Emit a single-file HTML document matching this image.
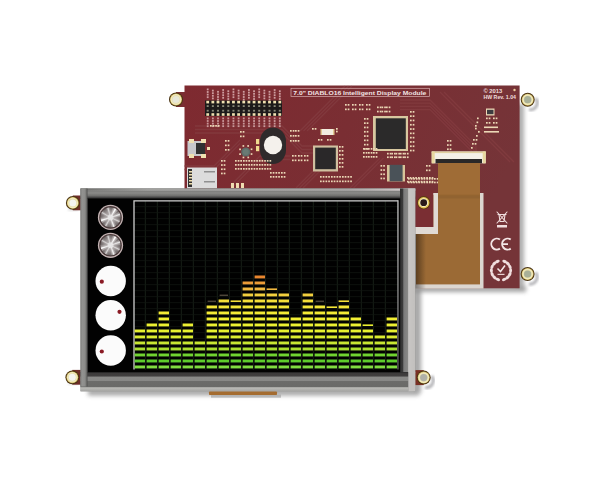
<!DOCTYPE html>
<html><head><meta charset="utf-8"><style>
html,body{margin:0;padding:0;background:#fff;width:600px;height:480px;overflow:hidden}
svg{display:block}
</style></head><body>
<svg width="600" height="480" viewBox="0 0 600 480">
<defs>
<filter id="blur2" x="-20%" y="-20%" width="140%" height="140%"><feGaussianBlur stdDeviation="2"/></filter>
<filter id="blur1" x="-20%" y="-20%" width="140%" height="140%"><feGaussianBlur stdDeviation="1"/></filter>
<filter id="blur05"><feGaussianBlur stdDeviation="0.5"/></filter>
<radialGradient id="gold" cx="50%" cy="50%" r="50%">
<stop offset="0.55" stop-color="#f2e8b0"/><stop offset="0.75" stop-color="#e8c860"/><stop offset="1" stop-color="#7a5a20"/>
</radialGradient>
<linearGradient id="pcbg" x1="0" y1="0" x2="1" y2="0.3">
<stop offset="0" stop-color="#7e2a30"/><stop offset="0.5" stop-color="#7a2e33"/><stop offset="1" stop-color="#753438"/>
</linearGradient>
</defs>
<rect width="600" height="480" fill="#fff"/>

<g filter="url(#blur2)" opacity="0.6"><rect x="516" y="104" width="8" height="188" fill="#777"/><rect x="410" y="286" width="116" height="6" fill="#666"/></g>
<rect x="176" y="92.0" width="16.0" height="15.0" fill="#7a2e33"/><circle cx="176" cy="99.5" r="7.0" fill="#4a3414"/><circle cx="176" cy="99.5" r="6.0" fill="#d0b860"/><circle cx="176" cy="99.5" r="5.4" fill="#f2ecc0"/><circle cx="176" cy="99.5" r="4.2" fill="#e6dca8"/><circle cx="176" cy="99.5" r="3.6" fill="#e8e8d8"/>
<path d="M528.98 109.59 A7.0 7.0 0 0 0 535.56 98.20" fill="none" stroke="#8a8a90" stroke-width="3.2" opacity="0.6" filter="url(#blur1)"/><circle cx="527.7" cy="99.7" r="7.0" fill="#4a3414"/><circle cx="527.7" cy="99.7" r="6.0" fill="#d0b860"/><circle cx="527.7" cy="99.7" r="5.4" fill="#f2ecc0"/><circle cx="527.7" cy="99.7" r="4.2" fill="#e6dca8"/><circle cx="527.7" cy="99.7" r="3.6" fill="#a8b098"/>
<path d="M528.88 283.89 A7.0 7.0 0 0 0 535.46 272.50" fill="none" stroke="#8a8a90" stroke-width="3.2" opacity="0.6" filter="url(#blur1)"/><circle cx="527.6" cy="274" r="7.0" fill="#4a3414"/><circle cx="527.6" cy="274" r="6.0" fill="#d0b860"/><circle cx="527.6" cy="274" r="5.4" fill="#f2ecc0"/><circle cx="527.6" cy="274" r="4.2" fill="#e6dca8"/><circle cx="527.6" cy="274" r="3.6" fill="#a8b098"/>
<rect x="184.5" y="85.5" width="335.1" height="202.8" fill="url(#pcbg)"/>
<clipPath id="pcbclip"><rect x="184.5" y="85.5" width="335.1" height="202.8"/></clipPath>
<g clip-path="url(#pcbclip)" stroke="#843c40" stroke-width="1.3" fill="none" opacity="0.8"><path d="M195.0 126.0 L282.0 126.0 L302.0 146.0 L332.0 146.0"/><path d="M195.0 129.5 L282.0 129.5 L302.0 149.5 L332.0 149.5"/><path d="M195.0 133.0 L282.0 133.0 L302.0 153.0 L332.0 153.0"/><path d="M345.0 86.0 L300.0 131.0"/><path d="M348.5 86.0 L303.5 131.0"/><path d="M352.0 86.0 L307.0 131.0"/><path d="M400.0 100.0 L430.0 100.0 L476.0 146.0 L476.0 190.0"/><path d="M400.0 103.2 L430.0 103.2 L476.0 149.2 L476.0 193.2"/><path d="M400.0 106.4 L430.0 106.4 L476.0 152.4 L476.0 196.4"/><path d="M400.0 109.6 L430.0 109.6 L476.0 155.6 L476.0 199.6"/><path d="M184.0 166.0 L214.0 166.0 L240.0 140.0"/><path d="M184.0 169.5 L214.0 169.5 L240.0 143.5"/><path d="M296.0 188.0 L336.0 148.0"/><path d="M299.5 188.0 L339.5 148.0"/><path d="M303.0 188.0 L343.0 148.0"/><path d="M440.0 92.0 L510.0 162.0"/><path d="M444.0 92.0 L514.0 162.0"/><path d="M230.0 186.0 L260.0 156.0 L290.0 156.0"/><path d="M230.0 189.5 L260.0 159.5 L290.0 159.5"/><path d="M350.0 188.0 L380.0 158.0"/><path d="M353.5 188.0 L383.5 158.0"/></g>
<rect x="205" y="100.5" width="77" height="15.5" fill="#1d1a1a"/>
<rect x="206.30" y="100.8" width="2.8" height="2.6" fill="#f0e0b0"/><rect x="206.30" y="113.2" width="2.8" height="2.6" fill="#f0e0b0"/><rect x="206.70" y="105.2" width="2" height="1.8" fill="#8a8a78"/><rect x="206.70" y="109.8" width="2" height="1.8" fill="#8a8a78"/><rect x="206.80" y="88.5" width="1.8" height="1.8" fill="#e8c4c4" opacity="0.75"/><rect x="206.80" y="91.1" width="1.8" height="1.8" fill="#e8c4c4" opacity="0.75"/><rect x="206.80" y="93.7" width="1.8" height="1.8" fill="#e8c4c4" opacity="0.75"/><rect x="206.80" y="96.3" width="1.8" height="1.8" fill="#e8c4c4" opacity="0.75"/><rect x="206.80" y="117.5" width="1.8" height="1.8" fill="#e8c4c4" opacity="0.7"/><rect x="206.80" y="120.1" width="1.8" height="1.8" fill="#e8c4c4" opacity="0.7"/><rect x="206.80" y="122.7" width="1.8" height="1.8" fill="#e8c4c4" opacity="0.7"/><rect x="206.80" y="125.3" width="1.8" height="1.8" fill="#e8c4c4" opacity="0.7"/><rect x="211.45" y="100.8" width="2.8" height="2.6" fill="#f0e0b0"/><rect x="211.45" y="113.2" width="2.8" height="2.6" fill="#f0e0b0"/><rect x="211.85" y="105.2" width="2" height="1.8" fill="#8a8a78"/><rect x="211.85" y="109.8" width="2" height="1.8" fill="#8a8a78"/><rect x="211.95" y="89.7" width="1.8" height="1.8" fill="#e8c4c4" opacity="0.75"/><rect x="211.95" y="92.3" width="1.8" height="1.8" fill="#e8c4c4" opacity="0.75"/><rect x="211.95" y="94.9" width="1.8" height="1.8" fill="#e8c4c4" opacity="0.75"/><rect x="211.95" y="97.5" width="1.8" height="1.8" fill="#e8c4c4" opacity="0.75"/><rect x="211.95" y="117.5" width="1.8" height="1.8" fill="#e8c4c4" opacity="0.7"/><rect x="211.95" y="120.1" width="1.8" height="1.8" fill="#e8c4c4" opacity="0.7"/><rect x="211.95" y="122.7" width="1.8" height="1.8" fill="#e8c4c4" opacity="0.7"/><rect x="211.95" y="125.3" width="1.8" height="1.8" fill="#e8c4c4" opacity="0.7"/><rect x="216.60" y="100.8" width="2.8" height="2.6" fill="#f0e0b0"/><rect x="216.60" y="113.2" width="2.8" height="2.6" fill="#f0e0b0"/><rect x="217.00" y="105.2" width="2" height="1.8" fill="#8a8a78"/><rect x="217.00" y="109.8" width="2" height="1.8" fill="#8a8a78"/><rect x="217.10" y="90.9" width="1.8" height="1.8" fill="#e8c4c4" opacity="0.75"/><rect x="217.10" y="93.5" width="1.8" height="1.8" fill="#e8c4c4" opacity="0.75"/><rect x="217.10" y="96.1" width="1.8" height="1.8" fill="#e8c4c4" opacity="0.75"/><rect x="217.10" y="98.7" width="1.8" height="1.8" fill="#e8c4c4" opacity="0.75"/><rect x="217.10" y="117.5" width="1.8" height="1.8" fill="#e8c4c4" opacity="0.7"/><rect x="217.10" y="120.1" width="1.8" height="1.8" fill="#e8c4c4" opacity="0.7"/><rect x="217.10" y="122.7" width="1.8" height="1.8" fill="#e8c4c4" opacity="0.7"/><rect x="217.10" y="125.3" width="1.8" height="1.8" fill="#e8c4c4" opacity="0.7"/><rect x="221.75" y="100.8" width="2.8" height="2.6" fill="#f0e0b0"/><rect x="221.75" y="113.2" width="2.8" height="2.6" fill="#f0e0b0"/><rect x="222.15" y="105.2" width="2" height="1.8" fill="#8a8a78"/><rect x="222.15" y="109.8" width="2" height="1.8" fill="#8a8a78"/><rect x="222.25" y="89.1" width="1.8" height="1.8" fill="#e8c4c4" opacity="0.75"/><rect x="222.25" y="91.7" width="1.8" height="1.8" fill="#e8c4c4" opacity="0.75"/><rect x="222.25" y="94.3" width="1.8" height="1.8" fill="#e8c4c4" opacity="0.75"/><rect x="222.25" y="96.9" width="1.8" height="1.8" fill="#e8c4c4" opacity="0.75"/><rect x="222.25" y="117.5" width="1.8" height="1.8" fill="#e8c4c4" opacity="0.7"/><rect x="222.25" y="120.1" width="1.8" height="1.8" fill="#e8c4c4" opacity="0.7"/><rect x="222.25" y="122.7" width="1.8" height="1.8" fill="#e8c4c4" opacity="0.7"/><rect x="222.25" y="125.3" width="1.8" height="1.8" fill="#e8c4c4" opacity="0.7"/><rect x="226.90" y="100.8" width="2.8" height="2.6" fill="#f0e0b0"/><rect x="226.90" y="113.2" width="2.8" height="2.6" fill="#f0e0b0"/><rect x="227.30" y="105.2" width="2" height="1.8" fill="#8a8a78"/><rect x="227.30" y="109.8" width="2" height="1.8" fill="#8a8a78"/><rect x="227.40" y="90.3" width="1.8" height="1.8" fill="#e8c4c4" opacity="0.75"/><rect x="227.40" y="92.9" width="1.8" height="1.8" fill="#e8c4c4" opacity="0.75"/><rect x="227.40" y="95.5" width="1.8" height="1.8" fill="#e8c4c4" opacity="0.75"/><rect x="227.40" y="98.1" width="1.8" height="1.8" fill="#e8c4c4" opacity="0.75"/><rect x="227.40" y="117.5" width="1.8" height="1.8" fill="#e8c4c4" opacity="0.7"/><rect x="227.40" y="120.1" width="1.8" height="1.8" fill="#e8c4c4" opacity="0.7"/><rect x="227.40" y="122.7" width="1.8" height="1.8" fill="#e8c4c4" opacity="0.7"/><rect x="227.40" y="125.3" width="1.8" height="1.8" fill="#e8c4c4" opacity="0.7"/><rect x="232.05" y="100.8" width="2.8" height="2.6" fill="#f0e0b0"/><rect x="232.05" y="113.2" width="2.8" height="2.6" fill="#f0e0b0"/><rect x="232.45" y="105.2" width="2" height="1.8" fill="#8a8a78"/><rect x="232.45" y="109.8" width="2" height="1.8" fill="#8a8a78"/><rect x="232.55" y="88.5" width="1.8" height="1.8" fill="#e8c4c4" opacity="0.75"/><rect x="232.55" y="91.1" width="1.8" height="1.8" fill="#e8c4c4" opacity="0.75"/><rect x="232.55" y="93.7" width="1.8" height="1.8" fill="#e8c4c4" opacity="0.75"/><rect x="232.55" y="96.3" width="1.8" height="1.8" fill="#e8c4c4" opacity="0.75"/><rect x="232.55" y="117.5" width="1.8" height="1.8" fill="#e8c4c4" opacity="0.7"/><rect x="232.55" y="120.1" width="1.8" height="1.8" fill="#e8c4c4" opacity="0.7"/><rect x="232.55" y="122.7" width="1.8" height="1.8" fill="#e8c4c4" opacity="0.7"/><rect x="232.55" y="125.3" width="1.8" height="1.8" fill="#e8c4c4" opacity="0.7"/><rect x="237.20" y="100.8" width="2.8" height="2.6" fill="#f0e0b0"/><rect x="237.20" y="113.2" width="2.8" height="2.6" fill="#f0e0b0"/><rect x="237.60" y="105.2" width="2" height="1.8" fill="#8a8a78"/><rect x="237.60" y="109.8" width="2" height="1.8" fill="#8a8a78"/><rect x="237.70" y="89.7" width="1.8" height="1.8" fill="#e8c4c4" opacity="0.75"/><rect x="237.70" y="92.3" width="1.8" height="1.8" fill="#e8c4c4" opacity="0.75"/><rect x="237.70" y="94.9" width="1.8" height="1.8" fill="#e8c4c4" opacity="0.75"/><rect x="237.70" y="97.5" width="1.8" height="1.8" fill="#e8c4c4" opacity="0.75"/><rect x="237.70" y="117.5" width="1.8" height="1.8" fill="#e8c4c4" opacity="0.7"/><rect x="237.70" y="120.1" width="1.8" height="1.8" fill="#e8c4c4" opacity="0.7"/><rect x="237.70" y="122.7" width="1.8" height="1.8" fill="#e8c4c4" opacity="0.7"/><rect x="237.70" y="125.3" width="1.8" height="1.8" fill="#e8c4c4" opacity="0.7"/><rect x="242.35" y="100.8" width="2.8" height="2.6" fill="#f0e0b0"/><rect x="242.35" y="113.2" width="2.8" height="2.6" fill="#f0e0b0"/><rect x="242.75" y="105.2" width="2" height="1.8" fill="#8a8a78"/><rect x="242.75" y="109.8" width="2" height="1.8" fill="#8a8a78"/><rect x="242.85" y="90.9" width="1.8" height="1.8" fill="#e8c4c4" opacity="0.75"/><rect x="242.85" y="93.5" width="1.8" height="1.8" fill="#e8c4c4" opacity="0.75"/><rect x="242.85" y="96.1" width="1.8" height="1.8" fill="#e8c4c4" opacity="0.75"/><rect x="242.85" y="98.7" width="1.8" height="1.8" fill="#e8c4c4" opacity="0.75"/><rect x="242.85" y="117.5" width="1.8" height="1.8" fill="#e8c4c4" opacity="0.7"/><rect x="242.85" y="120.1" width="1.8" height="1.8" fill="#e8c4c4" opacity="0.7"/><rect x="242.85" y="122.7" width="1.8" height="1.8" fill="#e8c4c4" opacity="0.7"/><rect x="242.85" y="125.3" width="1.8" height="1.8" fill="#e8c4c4" opacity="0.7"/><rect x="247.50" y="100.8" width="2.8" height="2.6" fill="#f0e0b0"/><rect x="247.50" y="113.2" width="2.8" height="2.6" fill="#f0e0b0"/><rect x="247.90" y="105.2" width="2" height="1.8" fill="#8a8a78"/><rect x="247.90" y="109.8" width="2" height="1.8" fill="#8a8a78"/><rect x="248.00" y="89.1" width="1.8" height="1.8" fill="#e8c4c4" opacity="0.75"/><rect x="248.00" y="91.7" width="1.8" height="1.8" fill="#e8c4c4" opacity="0.75"/><rect x="248.00" y="94.3" width="1.8" height="1.8" fill="#e8c4c4" opacity="0.75"/><rect x="248.00" y="96.9" width="1.8" height="1.8" fill="#e8c4c4" opacity="0.75"/><rect x="248.00" y="117.5" width="1.8" height="1.8" fill="#e8c4c4" opacity="0.7"/><rect x="248.00" y="120.1" width="1.8" height="1.8" fill="#e8c4c4" opacity="0.7"/><rect x="248.00" y="122.7" width="1.8" height="1.8" fill="#e8c4c4" opacity="0.7"/><rect x="248.00" y="125.3" width="1.8" height="1.8" fill="#e8c4c4" opacity="0.7"/><rect x="252.65" y="100.8" width="2.8" height="2.6" fill="#f0e0b0"/><rect x="252.65" y="113.2" width="2.8" height="2.6" fill="#f0e0b0"/><rect x="253.05" y="105.2" width="2" height="1.8" fill="#8a8a78"/><rect x="253.05" y="109.8" width="2" height="1.8" fill="#8a8a78"/><rect x="253.15" y="90.3" width="1.8" height="1.8" fill="#e8c4c4" opacity="0.75"/><rect x="253.15" y="92.9" width="1.8" height="1.8" fill="#e8c4c4" opacity="0.75"/><rect x="253.15" y="95.5" width="1.8" height="1.8" fill="#e8c4c4" opacity="0.75"/><rect x="253.15" y="98.1" width="1.8" height="1.8" fill="#e8c4c4" opacity="0.75"/><rect x="253.15" y="117.5" width="1.8" height="1.8" fill="#e8c4c4" opacity="0.7"/><rect x="253.15" y="120.1" width="1.8" height="1.8" fill="#e8c4c4" opacity="0.7"/><rect x="253.15" y="122.7" width="1.8" height="1.8" fill="#e8c4c4" opacity="0.7"/><rect x="253.15" y="125.3" width="1.8" height="1.8" fill="#e8c4c4" opacity="0.7"/><rect x="257.80" y="100.8" width="2.8" height="2.6" fill="#f0e0b0"/><rect x="257.80" y="113.2" width="2.8" height="2.6" fill="#f0e0b0"/><rect x="258.20" y="105.2" width="2" height="1.8" fill="#8a8a78"/><rect x="258.20" y="109.8" width="2" height="1.8" fill="#8a8a78"/><rect x="258.30" y="88.5" width="1.8" height="1.8" fill="#e8c4c4" opacity="0.75"/><rect x="258.30" y="91.1" width="1.8" height="1.8" fill="#e8c4c4" opacity="0.75"/><rect x="258.30" y="93.7" width="1.8" height="1.8" fill="#e8c4c4" opacity="0.75"/><rect x="258.30" y="96.3" width="1.8" height="1.8" fill="#e8c4c4" opacity="0.75"/><rect x="258.30" y="117.5" width="1.8" height="1.8" fill="#e8c4c4" opacity="0.7"/><rect x="258.30" y="120.1" width="1.8" height="1.8" fill="#e8c4c4" opacity="0.7"/><rect x="258.30" y="122.7" width="1.8" height="1.8" fill="#e8c4c4" opacity="0.7"/><rect x="258.30" y="125.3" width="1.8" height="1.8" fill="#e8c4c4" opacity="0.7"/><rect x="262.95" y="100.8" width="2.8" height="2.6" fill="#f0e0b0"/><rect x="262.95" y="113.2" width="2.8" height="2.6" fill="#f0e0b0"/><rect x="263.35" y="105.2" width="2" height="1.8" fill="#8a8a78"/><rect x="263.35" y="109.8" width="2" height="1.8" fill="#8a8a78"/><rect x="263.45" y="89.7" width="1.8" height="1.8" fill="#e8c4c4" opacity="0.75"/><rect x="263.45" y="92.3" width="1.8" height="1.8" fill="#e8c4c4" opacity="0.75"/><rect x="263.45" y="94.9" width="1.8" height="1.8" fill="#e8c4c4" opacity="0.75"/><rect x="263.45" y="97.5" width="1.8" height="1.8" fill="#e8c4c4" opacity="0.75"/><rect x="263.45" y="117.5" width="1.8" height="1.8" fill="#e8c4c4" opacity="0.7"/><rect x="263.45" y="120.1" width="1.8" height="1.8" fill="#e8c4c4" opacity="0.7"/><rect x="263.45" y="122.7" width="1.8" height="1.8" fill="#e8c4c4" opacity="0.7"/><rect x="263.45" y="125.3" width="1.8" height="1.8" fill="#e8c4c4" opacity="0.7"/><rect x="268.10" y="100.8" width="2.8" height="2.6" fill="#f0e0b0"/><rect x="268.10" y="113.2" width="2.8" height="2.6" fill="#f0e0b0"/><rect x="268.50" y="105.2" width="2" height="1.8" fill="#8a8a78"/><rect x="268.50" y="109.8" width="2" height="1.8" fill="#8a8a78"/><rect x="268.60" y="90.9" width="1.8" height="1.8" fill="#e8c4c4" opacity="0.75"/><rect x="268.60" y="93.5" width="1.8" height="1.8" fill="#e8c4c4" opacity="0.75"/><rect x="268.60" y="96.1" width="1.8" height="1.8" fill="#e8c4c4" opacity="0.75"/><rect x="268.60" y="98.7" width="1.8" height="1.8" fill="#e8c4c4" opacity="0.75"/><rect x="268.60" y="117.5" width="1.8" height="1.8" fill="#e8c4c4" opacity="0.7"/><rect x="268.60" y="120.1" width="1.8" height="1.8" fill="#e8c4c4" opacity="0.7"/><rect x="268.60" y="122.7" width="1.8" height="1.8" fill="#e8c4c4" opacity="0.7"/><rect x="268.60" y="125.3" width="1.8" height="1.8" fill="#e8c4c4" opacity="0.7"/><rect x="273.25" y="100.8" width="2.8" height="2.6" fill="#f0e0b0"/><rect x="273.25" y="113.2" width="2.8" height="2.6" fill="#f0e0b0"/><rect x="273.65" y="105.2" width="2" height="1.8" fill="#8a8a78"/><rect x="273.65" y="109.8" width="2" height="1.8" fill="#8a8a78"/><rect x="273.75" y="89.1" width="1.8" height="1.8" fill="#e8c4c4" opacity="0.75"/><rect x="273.75" y="91.7" width="1.8" height="1.8" fill="#e8c4c4" opacity="0.75"/><rect x="273.75" y="94.3" width="1.8" height="1.8" fill="#e8c4c4" opacity="0.75"/><rect x="273.75" y="96.9" width="1.8" height="1.8" fill="#e8c4c4" opacity="0.75"/><rect x="273.75" y="117.5" width="1.8" height="1.8" fill="#e8c4c4" opacity="0.7"/><rect x="273.75" y="120.1" width="1.8" height="1.8" fill="#e8c4c4" opacity="0.7"/><rect x="273.75" y="122.7" width="1.8" height="1.8" fill="#e8c4c4" opacity="0.7"/><rect x="273.75" y="125.3" width="1.8" height="1.8" fill="#e8c4c4" opacity="0.7"/><rect x="278.40" y="100.8" width="2.8" height="2.6" fill="#f0e0b0"/><rect x="278.40" y="113.2" width="2.8" height="2.6" fill="#f0e0b0"/><rect x="278.80" y="105.2" width="2" height="1.8" fill="#8a8a78"/><rect x="278.80" y="109.8" width="2" height="1.8" fill="#8a8a78"/><rect x="278.90" y="90.3" width="1.8" height="1.8" fill="#e8c4c4" opacity="0.75"/><rect x="278.90" y="92.9" width="1.8" height="1.8" fill="#e8c4c4" opacity="0.75"/><rect x="278.90" y="95.5" width="1.8" height="1.8" fill="#e8c4c4" opacity="0.75"/><rect x="278.90" y="98.1" width="1.8" height="1.8" fill="#e8c4c4" opacity="0.75"/><rect x="278.90" y="117.5" width="1.8" height="1.8" fill="#e8c4c4" opacity="0.7"/><rect x="278.90" y="120.1" width="1.8" height="1.8" fill="#e8c4c4" opacity="0.7"/><rect x="278.90" y="122.7" width="1.8" height="1.8" fill="#e8c4c4" opacity="0.7"/><rect x="278.90" y="125.3" width="1.8" height="1.8" fill="#e8c4c4" opacity="0.7"/>
<rect x="291" y="88.3" width="138.5" height="8.2" fill="none" stroke="#d8b0b0" stroke-width="0.7"/>
<text x="293.3" y="94.8" font-family="Liberation Sans, sans-serif" font-size="6.2" font-weight="bold" fill="#f2e4e4" textLength="133" lengthAdjust="spacingAndGlyphs">7.0" DIABLO16 Intelligent Display Module</text>
<text x="483.4" y="92.7" font-family="Liberation Sans, sans-serif" font-size="5.2" font-weight="bold" fill="#f0dede" textLength="19" lengthAdjust="spacingAndGlyphs">© 2013</text>
<text x="483.4" y="98.5" font-family="Liberation Sans, sans-serif" font-size="4.8" font-weight="bold" fill="#f0dede" textLength="32.6" lengthAdjust="spacingAndGlyphs">HW Rev. 1.04</text>
<circle cx="514.5" cy="90" r="1.2" fill="#f0d0a0"/>
<rect x="373" y="116" width="35" height="35" fill="#d8c8a0"/>
<rect x="375.8" y="118.3" width="30" height="30.7" fill="#2b2a2a"/>
<rect x="260" y="127.5" width="26" height="36.5" rx="13" ry="14" fill="#2e2a2b"/>
<circle cx="273" cy="145" r="9.2" fill="#f4f1ec"/>
<rect x="313" y="145.5" width="25" height="26" fill="#d0c0a0"/>
<rect x="315.2" y="147.6" width="20.6" height="21.6" fill="#2a2829"/>
<rect x="321.7" y="129" width="11.3" height="6" fill="#f2ece0"/>
<rect x="320.5" y="129" width="1.5" height="6" fill="#e0c890"/><rect x="333" y="129" width="1.5" height="6" fill="#e0c890"/>
<rect x="387" y="165" width="18" height="16.5" fill="#d8c49a"/><rect x="389.6" y="164.8" width="13" height="16.5" fill="#4a5258"/>
<circle cx="245.8" cy="152" r="4.6" fill="#5e6c68"/><circle cx="245.8" cy="152" r="3" fill="#6a7a74"/>
<rect x="187.5" y="141" width="16" height="15" fill="#c8c8cc"/><rect x="196" y="143" width="9" height="11" fill="#303030"/>
<rect x="189" y="139" width="5" height="4" fill="#f0e0b0"/><rect x="189" y="154" width="5" height="4" fill="#f0e0b0"/><rect x="201" y="139" width="5" height="4" fill="#f0e0b0"/><rect x="201" y="154" width="5" height="4" fill="#f0e0b0"/><rect x="207" y="147" width="3" height="3" fill="#f0e0b0"/>
<rect x="187" y="167.5" width="30" height="21" fill="#dcdcdc"/><rect x="188" y="169" width="4" height="18" fill="#303030"/>
<g fill="#f0e0b0"><rect x="189" y="171" width="3" height="1.5"/><rect x="189" y="174" width="3" height="1.5"/><rect x="189" y="177" width="3" height="1.5"/><rect x="189" y="180" width="3" height="1.5"/><rect x="189" y="183" width="3" height="1.5"/></g>
<rect x="204" y="171" width="11" height="1.5" fill="#909090"/><rect x="204" y="181" width="11" height="1.5" fill="#909090"/>
<g fill="#f0dcb0"><rect x="231" y="183" width="3" height="5"/><rect x="236" y="183" width="3" height="5"/><rect x="241" y="183" width="3" height="5"/></g>
<g fill="#ecd8b6"><rect x="250.7" y="153.2" width="1.7" height="1.7"/><rect x="247.4" y="156.6" width="1.7" height="1.7"/><rect x="242.6" y="156.6" width="1.7" height="1.7"/><rect x="239.2" y="153.3" width="1.7" height="1.7"/><rect x="239.2" y="148.5" width="1.7" height="1.7"/><rect x="242.5" y="145.1" width="1.7" height="1.7"/><rect x="247.3" y="145.1" width="1.7" height="1.7"/><rect x="250.7" y="148.4" width="1.7" height="1.7"/><rect x="240.0" y="131.0" width="1.7" height="1.7"/><rect x="242.7" y="131.0" width="1.7" height="1.7"/><rect x="240.0" y="135.5" width="1.7" height="1.7"/><rect x="242.7" y="135.5" width="1.7" height="1.7"/><rect x="235.0" y="160.0" width="1.7" height="1.7"/><rect x="237.7" y="160.0" width="1.7" height="1.7"/><rect x="240.3" y="160.0" width="1.7" height="1.7"/><rect x="243.0" y="160.0" width="1.7" height="1.7"/><rect x="245.6" y="160.0" width="1.7" height="1.7"/><rect x="248.3" y="160.0" width="1.7" height="1.7"/><rect x="250.9" y="160.0" width="1.7" height="1.7"/><rect x="253.6" y="160.0" width="1.7" height="1.7"/><rect x="256.2" y="160.0" width="1.7" height="1.7"/><rect x="258.9" y="160.0" width="1.7" height="1.7"/><rect x="261.5" y="160.0" width="1.7" height="1.7"/><rect x="264.2" y="160.0" width="1.7" height="1.7"/><rect x="266.8" y="160.0" width="1.7" height="1.7"/><rect x="269.5" y="160.0" width="1.7" height="1.7"/><rect x="235.0" y="164.0" width="1.7" height="1.7"/><rect x="237.7" y="164.0" width="1.7" height="1.7"/><rect x="240.3" y="164.0" width="1.7" height="1.7"/><rect x="243.0" y="164.0" width="1.7" height="1.7"/><rect x="245.6" y="164.0" width="1.7" height="1.7"/><rect x="248.3" y="164.0" width="1.7" height="1.7"/><rect x="250.9" y="164.0" width="1.7" height="1.7"/><rect x="253.6" y="164.0" width="1.7" height="1.7"/><rect x="256.2" y="164.0" width="1.7" height="1.7"/><rect x="258.9" y="164.0" width="1.7" height="1.7"/><rect x="261.5" y="164.0" width="1.7" height="1.7"/><rect x="264.2" y="164.0" width="1.7" height="1.7"/><rect x="266.8" y="164.0" width="1.7" height="1.7"/><rect x="269.5" y="164.0" width="1.7" height="1.7"/><rect x="235.0" y="168.0" width="1.7" height="1.7"/><rect x="237.7" y="168.0" width="1.7" height="1.7"/><rect x="240.3" y="168.0" width="1.7" height="1.7"/><rect x="243.0" y="168.0" width="1.7" height="1.7"/><rect x="245.6" y="168.0" width="1.7" height="1.7"/><rect x="248.3" y="168.0" width="1.7" height="1.7"/><rect x="250.9" y="168.0" width="1.7" height="1.7"/><rect x="253.6" y="168.0" width="1.7" height="1.7"/><rect x="256.2" y="168.0" width="1.7" height="1.7"/><rect x="258.9" y="168.0" width="1.7" height="1.7"/><rect x="261.5" y="168.0" width="1.7" height="1.7"/><rect x="264.2" y="168.0" width="1.7" height="1.7"/><rect x="266.8" y="168.0" width="1.7" height="1.7"/><rect x="269.5" y="168.0" width="1.7" height="1.7"/><rect x="221.0" y="160.0" width="1.7" height="1.7"/><rect x="223.7" y="160.0" width="1.7" height="1.7"/><rect x="221.0" y="164.2" width="1.7" height="1.7"/><rect x="223.7" y="164.2" width="1.7" height="1.7"/><rect x="221.0" y="168.4" width="1.7" height="1.7"/><rect x="223.7" y="168.4" width="1.7" height="1.7"/><rect x="221.0" y="172.6" width="1.7" height="1.7"/><rect x="223.7" y="172.6" width="1.7" height="1.7"/><rect x="292.0" y="155.0" width="1.7" height="1.7"/><rect x="294.7" y="155.0" width="1.7" height="1.7"/><rect x="298.0" y="155.0" width="1.7" height="1.7"/><rect x="300.7" y="155.0" width="1.7" height="1.7"/><rect x="304.0" y="155.0" width="1.7" height="1.7"/><rect x="306.7" y="155.0" width="1.7" height="1.7"/><rect x="292.0" y="159.5" width="1.7" height="1.7"/><rect x="294.7" y="159.5" width="1.7" height="1.7"/><rect x="298.0" y="159.5" width="1.7" height="1.7"/><rect x="300.7" y="159.5" width="1.7" height="1.7"/><rect x="304.0" y="159.5" width="1.7" height="1.7"/><rect x="306.7" y="159.5" width="1.7" height="1.7"/><rect x="312.0" y="128.0" width="1.7" height="1.7"/><rect x="314.7" y="128.0" width="1.7" height="1.7"/><rect x="336.0" y="128.0" width="1.7" height="1.7"/><rect x="336.0" y="130.7" width="1.7" height="1.7"/><rect x="318.0" y="139.0" width="1.7" height="1.7"/><rect x="320.7" y="139.0" width="1.7" height="1.7"/><rect x="327.0" y="139.0" width="1.7" height="1.7"/><rect x="329.7" y="139.0" width="1.7" height="1.7"/><rect x="339.0" y="146.0" width="1.7" height="1.7"/><rect x="341.7" y="146.0" width="1.7" height="1.7"/><rect x="339.0" y="150.0" width="1.7" height="1.7"/><rect x="341.7" y="150.0" width="1.7" height="1.7"/><rect x="339.0" y="154.0" width="1.7" height="1.7"/><rect x="341.7" y="154.0" width="1.7" height="1.7"/><rect x="339.0" y="158.0" width="1.7" height="1.7"/><rect x="341.7" y="158.0" width="1.7" height="1.7"/><rect x="339.0" y="162.0" width="1.7" height="1.7"/><rect x="341.7" y="162.0" width="1.7" height="1.7"/><rect x="339.0" y="166.0" width="1.7" height="1.7"/><rect x="341.7" y="166.0" width="1.7" height="1.7"/><rect x="345.0" y="104.0" width="1.7" height="1.7"/><rect x="347.7" y="104.0" width="1.7" height="1.7"/><rect x="352.0" y="104.0" width="1.7" height="1.7"/><rect x="354.7" y="104.0" width="1.7" height="1.7"/><rect x="359.0" y="104.0" width="1.7" height="1.7"/><rect x="361.7" y="104.0" width="1.7" height="1.7"/><rect x="366.0" y="104.0" width="1.7" height="1.7"/><rect x="368.7" y="104.0" width="1.7" height="1.7"/><rect x="345.0" y="108.5" width="1.7" height="1.7"/><rect x="347.7" y="108.5" width="1.7" height="1.7"/><rect x="352.0" y="108.5" width="1.7" height="1.7"/><rect x="354.7" y="108.5" width="1.7" height="1.7"/><rect x="359.0" y="108.5" width="1.7" height="1.7"/><rect x="361.7" y="108.5" width="1.7" height="1.7"/><rect x="366.0" y="108.5" width="1.7" height="1.7"/><rect x="368.7" y="108.5" width="1.7" height="1.7"/><rect x="377.0" y="106.5" width="1.7" height="1.7"/><rect x="379.7" y="106.5" width="1.7" height="1.7"/><rect x="381.5" y="106.5" width="1.7" height="1.7"/><rect x="384.2" y="106.5" width="1.7" height="1.7"/><rect x="386.0" y="106.5" width="1.7" height="1.7"/><rect x="388.7" y="106.5" width="1.7" height="1.7"/><rect x="377.0" y="110.7" width="1.7" height="1.7"/><rect x="379.7" y="110.7" width="1.7" height="1.7"/><rect x="381.5" y="110.7" width="1.7" height="1.7"/><rect x="384.2" y="110.7" width="1.7" height="1.7"/><rect x="386.0" y="110.7" width="1.7" height="1.7"/><rect x="388.7" y="110.7" width="1.7" height="1.7"/><rect x="364.0" y="118.0" width="1.7" height="1.7"/><rect x="366.7" y="118.0" width="1.7" height="1.7"/><rect x="364.0" y="122.3" width="1.7" height="1.7"/><rect x="366.7" y="122.3" width="1.7" height="1.7"/><rect x="364.0" y="126.6" width="1.7" height="1.7"/><rect x="366.7" y="126.6" width="1.7" height="1.7"/><rect x="364.0" y="130.9" width="1.7" height="1.7"/><rect x="366.7" y="130.9" width="1.7" height="1.7"/><rect x="364.0" y="135.2" width="1.7" height="1.7"/><rect x="366.7" y="135.2" width="1.7" height="1.7"/><rect x="364.0" y="139.5" width="1.7" height="1.7"/><rect x="366.7" y="139.5" width="1.7" height="1.7"/><rect x="364.0" y="143.8" width="1.7" height="1.7"/><rect x="366.7" y="143.8" width="1.7" height="1.7"/><rect x="364.0" y="148.1" width="1.7" height="1.7"/><rect x="366.7" y="148.1" width="1.7" height="1.7"/><rect x="410.0" y="111.0" width="1.7" height="1.7"/><rect x="412.7" y="111.0" width="1.7" height="1.7"/><rect x="410.0" y="115.3" width="1.7" height="1.7"/><rect x="412.7" y="115.3" width="1.7" height="1.7"/><rect x="410.0" y="119.6" width="1.7" height="1.7"/><rect x="412.7" y="119.6" width="1.7" height="1.7"/><rect x="410.0" y="123.9" width="1.7" height="1.7"/><rect x="412.7" y="123.9" width="1.7" height="1.7"/><rect x="410.0" y="128.2" width="1.7" height="1.7"/><rect x="412.7" y="128.2" width="1.7" height="1.7"/><rect x="410.0" y="132.5" width="1.7" height="1.7"/><rect x="412.7" y="132.5" width="1.7" height="1.7"/><rect x="410.0" y="136.8" width="1.7" height="1.7"/><rect x="412.7" y="136.8" width="1.7" height="1.7"/><rect x="410.0" y="141.1" width="1.7" height="1.7"/><rect x="412.7" y="141.1" width="1.7" height="1.7"/><rect x="410.0" y="145.4" width="1.7" height="1.7"/><rect x="412.7" y="145.4" width="1.7" height="1.7"/><rect x="410.0" y="149.7" width="1.7" height="1.7"/><rect x="412.7" y="149.7" width="1.7" height="1.7"/><rect x="387.0" y="152.8" width="1.7" height="1.7"/><rect x="389.7" y="152.8" width="1.7" height="1.7"/><rect x="391.3" y="152.8" width="1.7" height="1.7"/><rect x="394.0" y="152.8" width="1.7" height="1.7"/><rect x="395.6" y="152.8" width="1.7" height="1.7"/><rect x="398.3" y="152.8" width="1.7" height="1.7"/><rect x="399.9" y="152.8" width="1.7" height="1.7"/><rect x="402.6" y="152.8" width="1.7" height="1.7"/><rect x="404.2" y="152.8" width="1.7" height="1.7"/><rect x="406.9" y="152.8" width="1.7" height="1.7"/><rect x="387.0" y="156.4" width="1.7" height="1.7"/><rect x="389.7" y="156.4" width="1.7" height="1.7"/><rect x="391.3" y="156.4" width="1.7" height="1.7"/><rect x="394.0" y="156.4" width="1.7" height="1.7"/><rect x="395.6" y="156.4" width="1.7" height="1.7"/><rect x="398.3" y="156.4" width="1.7" height="1.7"/><rect x="399.9" y="156.4" width="1.7" height="1.7"/><rect x="402.6" y="156.4" width="1.7" height="1.7"/><rect x="404.2" y="156.4" width="1.7" height="1.7"/><rect x="406.9" y="156.4" width="1.7" height="1.7"/><rect x="363.0" y="148.0" width="1.7" height="1.7"/><rect x="365.7" y="148.0" width="1.7" height="1.7"/><rect x="368.0" y="148.0" width="1.7" height="1.7"/><rect x="370.7" y="148.0" width="1.7" height="1.7"/><rect x="373.0" y="148.0" width="1.7" height="1.7"/><rect x="375.7" y="148.0" width="1.7" height="1.7"/><rect x="363.0" y="152.0" width="1.7" height="1.7"/><rect x="365.7" y="152.0" width="1.7" height="1.7"/><rect x="368.0" y="152.0" width="1.7" height="1.7"/><rect x="370.7" y="152.0" width="1.7" height="1.7"/><rect x="373.0" y="152.0" width="1.7" height="1.7"/><rect x="375.7" y="152.0" width="1.7" height="1.7"/><rect x="363.0" y="156.0" width="1.7" height="1.7"/><rect x="365.7" y="156.0" width="1.7" height="1.7"/><rect x="368.0" y="156.0" width="1.7" height="1.7"/><rect x="370.7" y="156.0" width="1.7" height="1.7"/><rect x="373.0" y="156.0" width="1.7" height="1.7"/><rect x="375.7" y="156.0" width="1.7" height="1.7"/><rect x="380.5" y="165.0" width="1.7" height="1.7"/><rect x="383.2" y="165.0" width="1.7" height="1.7"/><rect x="380.5" y="169.2" width="1.7" height="1.7"/><rect x="383.2" y="169.2" width="1.7" height="1.7"/><rect x="380.5" y="173.4" width="1.7" height="1.7"/><rect x="383.2" y="173.4" width="1.7" height="1.7"/><rect x="380.5" y="177.6" width="1.7" height="1.7"/><rect x="383.2" y="177.6" width="1.7" height="1.7"/><rect x="408.0" y="178.0" width="1.7" height="1.7"/><rect x="410.7" y="178.0" width="1.7" height="1.7"/><rect x="413.2" y="178.0" width="1.7" height="1.7"/><rect x="415.9" y="178.0" width="1.7" height="1.7"/><rect x="418.4" y="178.0" width="1.7" height="1.7"/><rect x="421.1" y="178.0" width="1.7" height="1.7"/><rect x="423.6" y="178.0" width="1.7" height="1.7"/><rect x="426.3" y="178.0" width="1.7" height="1.7"/><rect x="428.8" y="178.0" width="1.7" height="1.7"/><rect x="431.5" y="178.0" width="1.7" height="1.7"/><rect x="434.0" y="178.0" width="1.7" height="1.7"/><rect x="436.7" y="178.0" width="1.7" height="1.7"/><rect x="408.0" y="181.6" width="1.7" height="1.7"/><rect x="410.7" y="181.6" width="1.7" height="1.7"/><rect x="413.2" y="181.6" width="1.7" height="1.7"/><rect x="415.9" y="181.6" width="1.7" height="1.7"/><rect x="418.4" y="181.6" width="1.7" height="1.7"/><rect x="421.1" y="181.6" width="1.7" height="1.7"/><rect x="423.6" y="181.6" width="1.7" height="1.7"/><rect x="426.3" y="181.6" width="1.7" height="1.7"/><rect x="428.8" y="181.6" width="1.7" height="1.7"/><rect x="431.5" y="181.6" width="1.7" height="1.7"/><rect x="434.0" y="181.6" width="1.7" height="1.7"/><rect x="436.7" y="181.6" width="1.7" height="1.7"/><rect x="447.0" y="140.0" width="1.7" height="1.7"/><rect x="449.7" y="140.0" width="1.7" height="1.7"/><rect x="447.0" y="144.2" width="1.7" height="1.7"/><rect x="449.7" y="144.2" width="1.7" height="1.7"/><rect x="447.0" y="148.4" width="1.7" height="1.7"/><rect x="449.7" y="148.4" width="1.7" height="1.7"/><rect x="447.0" y="152.6" width="1.7" height="1.7"/><rect x="449.7" y="152.6" width="1.7" height="1.7"/><rect x="486.0" y="117.5" width="1.7" height="1.7"/><rect x="488.7" y="117.5" width="1.7" height="1.7"/><rect x="493.0" y="117.5" width="1.7" height="1.7"/><rect x="495.7" y="117.5" width="1.7" height="1.7"/><rect x="486.0" y="122.0" width="1.7" height="1.7"/><rect x="488.7" y="122.0" width="1.7" height="1.7"/><rect x="493.0" y="122.0" width="1.7" height="1.7"/><rect x="495.7" y="122.0" width="1.7" height="1.7"/><rect x="484.0" y="126.5" width="14" height="1.6"/><rect x="484.0" y="131.0" width="15" height="1.6"/><rect x="477.0" y="117.5" width="1.7" height="1.7"/><rect x="476.5" y="121.5" width="1.7" height="1.7"/><rect x="475.0" y="125.0" width="1.7" height="1.7"/><rect x="475.0" y="127.7" width="1.7" height="1.7"/><rect x="478.0" y="131.0" width="1.7" height="1.7"/><rect x="476.0" y="135.0" width="1.7" height="1.7"/><rect x="473.0" y="139.0" width="1.7" height="1.7"/><rect x="475.7" y="139.0" width="1.7" height="1.7"/><rect x="472.0" y="143.0" width="1.7" height="1.7"/><rect x="474.7" y="143.0" width="1.7" height="1.7"/><rect x="471.0" y="147.0" width="1.7" height="1.7"/><rect x="407.0" y="177.0" width="1.7" height="1.7"/><rect x="409.7" y="177.0" width="1.7" height="1.7"/><rect x="412.5" y="177.0" width="1.7" height="1.7"/><rect x="415.2" y="177.0" width="1.7" height="1.7"/><rect x="418.0" y="177.0" width="1.7" height="1.7"/><rect x="420.7" y="177.0" width="1.7" height="1.7"/><rect x="423.5" y="177.0" width="1.7" height="1.7"/><rect x="426.2" y="177.0" width="1.7" height="1.7"/><rect x="429.0" y="177.0" width="1.7" height="1.7"/><rect x="431.7" y="177.0" width="1.7" height="1.7"/><rect x="407.0" y="180.8" width="1.7" height="1.7"/><rect x="409.7" y="180.8" width="1.7" height="1.7"/><rect x="412.5" y="180.8" width="1.7" height="1.7"/><rect x="415.2" y="180.8" width="1.7" height="1.7"/><rect x="418.0" y="180.8" width="1.7" height="1.7"/><rect x="420.7" y="180.8" width="1.7" height="1.7"/><rect x="423.5" y="180.8" width="1.7" height="1.7"/><rect x="426.2" y="180.8" width="1.7" height="1.7"/><rect x="429.0" y="180.8" width="1.7" height="1.7"/><rect x="431.7" y="180.8" width="1.7" height="1.7"/><rect x="426.0" y="165.0" width="1.7" height="1.7"/><rect x="428.7" y="165.0" width="1.7" height="1.7"/><rect x="426.0" y="169.5" width="1.7" height="1.7"/><rect x="428.7" y="169.5" width="1.7" height="1.7"/><rect x="320.0" y="176.0" width="1.7" height="1.7"/><rect x="322.7" y="176.0" width="1.7" height="1.7"/><rect x="325.5" y="176.0" width="1.7" height="1.7"/><rect x="328.2" y="176.0" width="1.7" height="1.7"/><rect x="331.0" y="176.0" width="1.7" height="1.7"/><rect x="333.7" y="176.0" width="1.7" height="1.7"/><rect x="336.5" y="176.0" width="1.7" height="1.7"/><rect x="339.2" y="176.0" width="1.7" height="1.7"/><rect x="342.0" y="176.0" width="1.7" height="1.7"/><rect x="344.7" y="176.0" width="1.7" height="1.7"/><rect x="347.5" y="176.0" width="1.7" height="1.7"/><rect x="350.2" y="176.0" width="1.7" height="1.7"/><rect x="320.0" y="180.5" width="1.7" height="1.7"/><rect x="322.7" y="180.5" width="1.7" height="1.7"/><rect x="325.5" y="180.5" width="1.7" height="1.7"/><rect x="328.2" y="180.5" width="1.7" height="1.7"/><rect x="331.0" y="180.5" width="1.7" height="1.7"/><rect x="333.7" y="180.5" width="1.7" height="1.7"/><rect x="336.5" y="180.5" width="1.7" height="1.7"/><rect x="339.2" y="180.5" width="1.7" height="1.7"/><rect x="342.0" y="180.5" width="1.7" height="1.7"/><rect x="344.7" y="180.5" width="1.7" height="1.7"/><rect x="347.5" y="180.5" width="1.7" height="1.7"/><rect x="350.2" y="180.5" width="1.7" height="1.7"/><rect x="270.0" y="172.0" width="1.7" height="1.7"/><rect x="272.7" y="172.0" width="1.7" height="1.7"/><rect x="275.5" y="172.0" width="1.7" height="1.7"/><rect x="278.2" y="172.0" width="1.7" height="1.7"/><rect x="281.0" y="172.0" width="1.7" height="1.7"/><rect x="283.7" y="172.0" width="1.7" height="1.7"/><rect x="270.0" y="176.0" width="1.7" height="1.7"/><rect x="272.7" y="176.0" width="1.7" height="1.7"/><rect x="275.5" y="176.0" width="1.7" height="1.7"/><rect x="278.2" y="176.0" width="1.7" height="1.7"/><rect x="281.0" y="176.0" width="1.7" height="1.7"/><rect x="283.7" y="176.0" width="1.7" height="1.7"/><rect x="290.0" y="130.0" width="1.7" height="1.7"/><rect x="292.7" y="130.0" width="1.7" height="1.7"/><rect x="295.0" y="130.0" width="1.7" height="1.7"/><rect x="297.7" y="130.0" width="1.7" height="1.7"/><rect x="290.0" y="135.0" width="1.7" height="1.7"/><rect x="292.7" y="135.0" width="1.7" height="1.7"/><rect x="295.0" y="135.0" width="1.7" height="1.7"/><rect x="297.7" y="135.0" width="1.7" height="1.7"/><rect x="290.0" y="140.0" width="1.7" height="1.7"/><rect x="292.7" y="140.0" width="1.7" height="1.7"/><rect x="295.0" y="140.0" width="1.7" height="1.7"/><rect x="297.7" y="140.0" width="1.7" height="1.7"/><rect x="210.0" y="125.0" width="1.7" height="1.7"/><rect x="212.7" y="125.0" width="1.7" height="1.7"/><rect x="215.2" y="125.0" width="1.7" height="1.7"/><rect x="217.9" y="125.0" width="1.7" height="1.7"/><rect x="225.0" y="140.0" width="1.7" height="1.7"/><rect x="227.7" y="140.0" width="1.7" height="1.7"/><rect x="225.0" y="144.5" width="1.7" height="1.7"/><rect x="227.7" y="144.5" width="1.7" height="1.7"/><rect x="225.0" y="149.0" width="1.7" height="1.7"/><rect x="227.7" y="149.0" width="1.7" height="1.7"/></g>
<rect x="256" y="139" width="3.2" height="5.2" fill="#f0dc90"/><rect x="256" y="146" width="3.2" height="5.2" fill="#f0dc90"/>
<rect x="486" y="108.5" width="8.5" height="7" fill="#ecd8b6"/><rect x="487" y="109.8" width="6.5" height="4.4" fill="#3c3c40"/>
<g stroke="#f0dede" stroke-width="1.1" fill="none" stroke-linecap="round"><path d="M497 212 L507 223 M507 212 L497 223"/><path d="M499 214.5 L500 221.5 L504 221.5 L505 214.5 Z"/><path d="M498 214.5 L506 214.5"/></g>
<rect x="497" y="225" width="10" height="2.5" fill="#f0dede"/>
<g stroke="#f4e6e6" stroke-width="1.9" fill="none"><path d="M499.95 239.59 A5.5 5.5 0 1 0 499.95 248.61"/><path d="M510.75 239.59 A5.5 5.5 0 1 0 510.75 248.61 M502.5 244.1 L508 244.1"/></g>
<g fill="#f0dede"><ellipse cx="497.40" cy="261.50" rx="2.4" ry="1.5" transform="rotate(-22.0 497.40 261.50)"/><ellipse cx="504.60" cy="261.50" rx="2.4" ry="1.5" transform="rotate(22.0 504.60 261.50)"/><ellipse cx="494.21" cy="263.61" rx="2.4" ry="1.5" transform="rotate(-45.0 494.21 263.61)"/><ellipse cx="507.79" cy="263.61" rx="2.4" ry="1.5" transform="rotate(45.0 507.79 263.61)"/><ellipse cx="492.10" cy="266.80" rx="2.4" ry="1.5" transform="rotate(-68.0 492.10 266.80)"/><ellipse cx="509.90" cy="266.80" rx="2.4" ry="1.5" transform="rotate(68.0 509.90 266.80)"/><ellipse cx="491.40" cy="270.57" rx="2.4" ry="1.5" transform="rotate(-91.0 491.40 270.57)"/><ellipse cx="510.60" cy="270.57" rx="2.4" ry="1.5" transform="rotate(91.0 510.60 270.57)"/><ellipse cx="492.23" cy="274.30" rx="2.4" ry="1.5" transform="rotate(-114.0 492.23 274.30)"/><ellipse cx="509.77" cy="274.30" rx="2.4" ry="1.5" transform="rotate(114.0 509.77 274.30)"/><ellipse cx="494.45" cy="277.42" rx="2.4" ry="1.5" transform="rotate(-137.0 494.45 277.42)"/><ellipse cx="507.55" cy="277.42" rx="2.4" ry="1.5" transform="rotate(137.0 507.55 277.42)"/><ellipse cx="497.72" cy="279.42" rx="2.4" ry="1.5" transform="rotate(-160.0 497.72 279.42)"/><ellipse cx="504.28" cy="279.42" rx="2.4" ry="1.5" transform="rotate(160.0 504.28 279.42)"/></g>
<path d="M497.5 268.5 L500.5 271.5 L505 265.5" stroke="#f4e8e8" stroke-width="1.5" fill="none"/>
<rect x="497.5" y="273.8" width="7" height="1.2" fill="#e8d0d0"/>
<rect x="431.7" y="151.5" width="54" height="11.8" fill="#f4f0e8"/>
<rect x="435.5" y="159" width="46.5" height="4.3" fill="#2a2828"/>
<rect x="431.7" y="151.5" width="54" height="1.6" fill="#e0d0a0"/>
<rect x="431.7" y="151.5" width="3" height="11.8" fill="#e8d8a0"/><rect x="482.7" y="151.5" width="3" height="11.8" fill="#e8d8a0"/>
<rect x="415" y="193" width="68.5" height="95.6" fill="#dcd6d0"/>
<rect x="416" y="195" width="64" height="89.4" fill="#9b6a35"/>
<rect x="438" y="163" width="42" height="32" fill="#9f6c36"/>
<rect x="438" y="194.5" width="42" height="1" fill="#8a5c2c" opacity="0.35"/>
<rect x="415" y="190" width="18.5" height="37" fill="#7a2e33"/>
<rect x="433.5" y="193" width="4.5" height="41" fill="#e0dad4"/><rect x="415" y="227" width="23" height="7" fill="#e0dad4"/>
<rect x="438" y="195.5" width="42" height="3" fill="#000" opacity="0.06"/>
<linearGradient id="bshad" x1="0" y1="0" x2="1" y2="0"><stop offset="0" stop-color="#000" stop-opacity="0.45"/><stop offset="1" stop-color="#000" stop-opacity="0"/></linearGradient>
<rect x="415" y="234" width="11" height="54.5" fill="url(#bshad)"/>
<g filter="url(#blur2)" opacity="0.75"><rect x="88" y="389" width="331" height="6.5" fill="#8a8a8a"/><rect x="413" y="288" width="8" height="105" fill="#888"/></g>
<rect x="68" y="208" width="10" height="3" fill="#ccc" opacity="0.5" filter="url(#blur1)"/>
<rect x="72.8" y="195.5" width="15.9" height="14.8" fill="#6e2c28"/><circle cx="72.8" cy="202.9" r="6.9" fill="#4a3414"/><circle cx="72.8" cy="202.9" r="5.9" fill="#d0b860"/><circle cx="72.8" cy="202.9" r="5.300000000000001" fill="#f2ecc0"/><circle cx="72.8" cy="202.9" r="4.1000000000000005" fill="#e6dca8"/><circle cx="72.8" cy="202.9" r="3.5000000000000004" fill="#f4f4f0"/>
<rect x="68" y="382" width="10" height="3" fill="#ccc" opacity="0.5" filter="url(#blur1)"/>
<rect x="72.3" y="369.90000000000003" width="15.9" height="14.8" fill="#6e2c28"/><circle cx="72.3" cy="377.3" r="6.9" fill="#4a3414"/><circle cx="72.3" cy="377.3" r="5.9" fill="#d0b860"/><circle cx="72.3" cy="377.3" r="5.300000000000001" fill="#f2ecc0"/><circle cx="72.3" cy="377.3" r="4.1000000000000005" fill="#e6dca8"/><circle cx="72.3" cy="377.3" r="3.5000000000000004" fill="#f4f4f0"/>
<path d="M424.98 387.49 A7.0 7.0 0 0 0 431.56 376.10" fill="none" stroke="#8a8a90" stroke-width="3.2" opacity="0.6" filter="url(#blur1)"/><rect x="407.7" y="370.1" width="16.0" height="15.0" fill="#7a3024"/><circle cx="423.7" cy="377.6" r="7.0" fill="#4a3414"/><circle cx="423.7" cy="377.6" r="6.0" fill="#d0b860"/><circle cx="423.7" cy="377.6" r="5.4" fill="#f2ecc0"/><circle cx="423.7" cy="377.6" r="4.2" fill="#e6dca8"/><circle cx="423.7" cy="377.6" r="3.6" fill="#b0b0a8"/>
<circle cx="423.7" cy="202.7" r="6.6" fill="#5a3a10"/><circle cx="423.7" cy="202.7" r="5.7" fill="#e6c75a"/><circle cx="423.7" cy="202.7" r="4.4" fill="#f4eec8"/><circle cx="423.7" cy="202.7" r="3.4" fill="#2a1a1a"/>
<linearGradient id="bzT" x1="0" y1="0" x2="0" y2="1">
<stop offset="0" stop-color="#626260"/><stop offset="0.18" stop-color="#7a7a78"/><stop offset="0.45" stop-color="#8a8a88"/><stop offset="0.7" stop-color="#727270"/><stop offset="0.88" stop-color="#4a4a4a"/><stop offset="1" stop-color="#1a1a1a"/></linearGradient>
<linearGradient id="bzTx" x1="0" y1="0" x2="1" y2="0">
<stop offset="0" stop-color="#c8c8c6" stop-opacity="0"/><stop offset="0.2" stop-color="#c8c8c6" stop-opacity="0.55"/><stop offset="0.8" stop-color="#d0cccc" stop-opacity="0.6"/><stop offset="1" stop-color="#e8dede" stop-opacity="0.9"/></linearGradient>
<linearGradient id="bzB" x1="0" y1="0" x2="0" y2="1">
<stop offset="0" stop-color="#2a2a2a"/><stop offset="0.06" stop-color="#3c3a3a"/><stop offset="0.22" stop-color="#424040"/><stop offset="0.25" stop-color="#8a8a88"/><stop offset="0.45" stop-color="#888886"/><stop offset="0.48" stop-color="#6c6c6a"/><stop offset="0.78" stop-color="#6a6a68"/><stop offset="0.81" stop-color="#bcbcb8"/><stop offset="1" stop-color="#a4a4a2"/></linearGradient>
<linearGradient id="bzR" x1="0" y1="0" x2="1" y2="0">
<stop offset="0" stop-color="#303030"/><stop offset="0.2" stop-color="#3c3c3c"/><stop offset="0.24" stop-color="#7a7a7a"/><stop offset="0.53" stop-color="#8a8a88"/><stop offset="0.56" stop-color="#c8c6c4"/><stop offset="0.95" stop-color="#c2c0be"/><stop offset="1" stop-color="#a8a8a6"/></linearGradient>
<linearGradient id="bzL" x1="0" y1="0" x2="1" y2="0">
<stop offset="0" stop-color="#7e7e7c"/><stop offset="0.25" stop-color="#929290"/><stop offset="0.65" stop-color="#8c8c8a"/><stop offset="0.85" stop-color="#6a6a68"/><stop offset="1" stop-color="#505050"/></linearGradient>

<rect x="80.5" y="188.5" width="334.8" height="202.8" fill="#8a8a88"/>
<rect x="80.5" y="188.5" width="334.8" height="10" fill="url(#bzT)"/>
<rect x="80.5" y="188.5" width="334.8" height="2.2" fill="url(#bzTx)"/>
<rect x="400" y="188.5" width="15.3" height="184" fill="url(#bzR)"/>
<rect x="80.5" y="372" width="327.9" height="19.3" fill="url(#bzB)"/>
<rect x="408.4" y="372" width="6.9" height="19.3" fill="#c4c2c0"/>
<path d="M400 372 L403.5 372 L408.4 376 L408.4 386.5 L400 386.5 Z" fill="none"/>
<rect x="80.5" y="188.5" width="7" height="198" fill="url(#bzL)"/>
<rect x="87.5" y="198.3" width="312.7" height="173.9" fill="#020202"/>
<rect x="134" y="201" width="264.5" height="169" fill="#010101"/>
<g stroke="#1a241a" stroke-width="0.9"><line x1="145.3" y1="201" x2="145.3" y2="370"/><line x1="157.3" y1="201" x2="157.3" y2="370"/><line x1="169.3" y1="201" x2="169.3" y2="370"/><line x1="181.3" y1="201" x2="181.3" y2="370"/><line x1="193.3" y1="201" x2="193.3" y2="370"/><line x1="205.3" y1="201" x2="205.3" y2="370"/><line x1="217.3" y1="201" x2="217.3" y2="370"/><line x1="229.3" y1="201" x2="229.3" y2="370"/><line x1="241.3" y1="201" x2="241.3" y2="370"/><line x1="253.3" y1="201" x2="253.3" y2="370"/><line x1="265.3" y1="201" x2="265.3" y2="370"/><line x1="277.3" y1="201" x2="277.3" y2="370"/><line x1="289.3" y1="201" x2="289.3" y2="370"/><line x1="301.3" y1="201" x2="301.3" y2="370"/><line x1="313.3" y1="201" x2="313.3" y2="370"/><line x1="325.3" y1="201" x2="325.3" y2="370"/><line x1="337.3" y1="201" x2="337.3" y2="370"/><line x1="349.3" y1="201" x2="349.3" y2="370"/><line x1="361.3" y1="201" x2="361.3" y2="370"/><line x1="373.3" y1="201" x2="373.3" y2="370"/><line x1="385.3" y1="201" x2="385.3" y2="370"/></g><g stroke="#121712" stroke-width="0.8"><line x1="134" y1="206.7" x2="398.5" y2="206.7"/><line x1="134" y1="212.7" x2="398.5" y2="212.7"/><line x1="134" y1="218.7" x2="398.5" y2="218.7"/><line x1="134" y1="224.7" x2="398.5" y2="224.7"/><line x1="134" y1="230.7" x2="398.5" y2="230.7"/><line x1="134" y1="236.7" x2="398.5" y2="236.7"/><line x1="134" y1="242.7" x2="398.5" y2="242.7"/><line x1="134" y1="248.7" x2="398.5" y2="248.7"/><line x1="134" y1="254.7" x2="398.5" y2="254.7"/><line x1="134" y1="260.7" x2="398.5" y2="260.7"/><line x1="134" y1="266.7" x2="398.5" y2="266.7"/><line x1="134" y1="272.7" x2="398.5" y2="272.7"/><line x1="134" y1="278.7" x2="398.5" y2="278.7"/><line x1="134" y1="284.7" x2="398.5" y2="284.7"/><line x1="134" y1="290.7" x2="398.5" y2="290.7"/><line x1="134" y1="296.7" x2="398.5" y2="296.7"/><line x1="134" y1="302.7" x2="398.5" y2="302.7"/><line x1="134" y1="308.7" x2="398.5" y2="308.7"/><line x1="134" y1="314.7" x2="398.5" y2="314.7"/><line x1="134" y1="320.7" x2="398.5" y2="320.7"/><line x1="134" y1="326.7" x2="398.5" y2="326.7"/><line x1="134" y1="332.7" x2="398.5" y2="332.7"/><line x1="134" y1="338.7" x2="398.5" y2="338.7"/><line x1="134" y1="344.7" x2="398.5" y2="344.7"/><line x1="134" y1="350.7" x2="398.5" y2="350.7"/><line x1="134" y1="356.7" x2="398.5" y2="356.7"/><line x1="134" y1="362.7" x2="398.5" y2="362.7"/><line x1="134" y1="368.7" x2="398.5" y2="368.7"/></g>
<linearGradient id="rbord" x1="0" y1="0" x2="0" y2="1"><stop offset="0" stop-color="#c8c8c8"/><stop offset="1" stop-color="#606060"/></linearGradient><path d="M134 369.5 L134 200.8 L397.9 200.8" fill="none" stroke="#cfcfcf" stroke-width="1.3"/><rect x="397.3" y="200.2" width="1.3" height="169.3" fill="url(#rbord)"/>
<rect x="134.6" y="365.5" width="10.4" height="2.9" fill="#80dc40"/><rect x="134.6" y="359.5" width="10.4" height="2.9" fill="#5ecc2c"/><rect x="134.6" y="353.5" width="10.4" height="2.9" fill="#70d430"/><rect x="134.6" y="347.5" width="10.4" height="2.9" fill="#acde30"/><rect x="134.6" y="341.5" width="10.4" height="2.9" fill="#c8e632"/><rect x="134.6" y="335.5" width="10.4" height="2.9" fill="#daec30"/><rect x="134.6" y="329.5" width="10.4" height="2.9" fill="#e6f030"/><rect x="146.6" y="365.5" width="10.4" height="2.9" fill="#80dc40"/><rect x="146.6" y="359.5" width="10.4" height="2.9" fill="#5ecc2c"/><rect x="146.6" y="353.5" width="10.4" height="2.9" fill="#70d430"/><rect x="146.6" y="347.5" width="10.4" height="2.9" fill="#acde30"/><rect x="146.6" y="341.5" width="10.4" height="2.9" fill="#c8e632"/><rect x="146.6" y="335.5" width="10.4" height="2.9" fill="#daec30"/><rect x="146.6" y="329.5" width="10.4" height="2.9" fill="#e6f030"/><rect x="146.6" y="323.5" width="10.4" height="2.9" fill="#ecf032"/><rect x="158.6" y="365.5" width="10.4" height="2.9" fill="#80dc40"/><rect x="158.6" y="359.5" width="10.4" height="2.9" fill="#5ecc2c"/><rect x="158.6" y="353.5" width="10.4" height="2.9" fill="#70d430"/><rect x="158.6" y="347.5" width="10.4" height="2.9" fill="#acde30"/><rect x="158.6" y="341.5" width="10.4" height="2.9" fill="#c8e632"/><rect x="158.6" y="335.5" width="10.4" height="2.9" fill="#daec30"/><rect x="158.6" y="329.5" width="10.4" height="2.9" fill="#e6f030"/><rect x="158.6" y="323.5" width="10.4" height="2.9" fill="#ecf032"/><rect x="158.6" y="317.5" width="10.4" height="2.9" fill="#f2ee34"/><rect x="158.6" y="311.5" width="10.4" height="2.9" fill="#f4ea36"/><rect x="170.6" y="365.5" width="10.4" height="2.9" fill="#80dc40"/><rect x="170.6" y="359.5" width="10.4" height="2.9" fill="#5ecc2c"/><rect x="170.6" y="353.5" width="10.4" height="2.9" fill="#70d430"/><rect x="170.6" y="347.5" width="10.4" height="2.9" fill="#acde30"/><rect x="170.6" y="341.5" width="10.4" height="2.9" fill="#c8e632"/><rect x="170.6" y="335.5" width="10.4" height="2.9" fill="#daec30"/><rect x="170.6" y="329.5" width="10.4" height="2.9" fill="#e6f030"/><rect x="182.6" y="365.5" width="10.4" height="2.9" fill="#80dc40"/><rect x="182.6" y="359.5" width="10.4" height="2.9" fill="#5ecc2c"/><rect x="182.6" y="353.5" width="10.4" height="2.9" fill="#70d430"/><rect x="182.6" y="347.5" width="10.4" height="2.9" fill="#acde30"/><rect x="182.6" y="341.5" width="10.4" height="2.9" fill="#c8e632"/><rect x="182.6" y="335.5" width="10.4" height="2.9" fill="#daec30"/><rect x="182.6" y="329.5" width="10.4" height="2.9" fill="#e6f030"/><rect x="182.6" y="323.5" width="10.4" height="2.9" fill="#ecf032"/><rect x="194.6" y="365.5" width="10.4" height="2.9" fill="#80dc40"/><rect x="194.6" y="359.5" width="10.4" height="2.9" fill="#5ecc2c"/><rect x="194.6" y="353.5" width="10.4" height="2.9" fill="#70d430"/><rect x="194.6" y="347.5" width="10.4" height="2.9" fill="#acde30"/><rect x="194.6" y="341.5" width="10.4" height="2.9" fill="#c8e632"/><rect x="206.6" y="365.5" width="10.4" height="2.9" fill="#80dc40"/><rect x="206.6" y="359.5" width="10.4" height="2.9" fill="#5ecc2c"/><rect x="206.6" y="353.5" width="10.4" height="2.9" fill="#70d430"/><rect x="206.6" y="347.5" width="10.4" height="2.9" fill="#acde30"/><rect x="206.6" y="341.5" width="10.4" height="2.9" fill="#c8e632"/><rect x="206.6" y="335.5" width="10.4" height="2.9" fill="#daec30"/><rect x="206.6" y="329.5" width="10.4" height="2.9" fill="#e6f030"/><rect x="206.6" y="323.5" width="10.4" height="2.9" fill="#ecf032"/><rect x="206.6" y="317.5" width="10.4" height="2.9" fill="#f2ee34"/><rect x="206.6" y="311.5" width="10.4" height="2.9" fill="#f4ea36"/><rect x="206.6" y="305.5" width="10.4" height="2.9" fill="#f4e638"/><rect x="218.6" y="365.5" width="10.4" height="2.9" fill="#80dc40"/><rect x="218.6" y="359.5" width="10.4" height="2.9" fill="#5ecc2c"/><rect x="218.6" y="353.5" width="10.4" height="2.9" fill="#70d430"/><rect x="218.6" y="347.5" width="10.4" height="2.9" fill="#acde30"/><rect x="218.6" y="341.5" width="10.4" height="2.9" fill="#c8e632"/><rect x="218.6" y="335.5" width="10.4" height="2.9" fill="#daec30"/><rect x="218.6" y="329.5" width="10.4" height="2.9" fill="#e6f030"/><rect x="218.6" y="323.5" width="10.4" height="2.9" fill="#ecf032"/><rect x="218.6" y="317.5" width="10.4" height="2.9" fill="#f2ee34"/><rect x="218.6" y="311.5" width="10.4" height="2.9" fill="#f4ea36"/><rect x="218.6" y="305.5" width="10.4" height="2.9" fill="#f4e638"/><rect x="218.6" y="299.5" width="10.4" height="2.9" fill="#f4de3a"/><rect x="230.6" y="365.5" width="10.4" height="2.9" fill="#80dc40"/><rect x="230.6" y="359.5" width="10.4" height="2.9" fill="#5ecc2c"/><rect x="230.6" y="353.5" width="10.4" height="2.9" fill="#70d430"/><rect x="230.6" y="347.5" width="10.4" height="2.9" fill="#acde30"/><rect x="230.6" y="341.5" width="10.4" height="2.9" fill="#c8e632"/><rect x="230.6" y="335.5" width="10.4" height="2.9" fill="#daec30"/><rect x="230.6" y="329.5" width="10.4" height="2.9" fill="#e6f030"/><rect x="230.6" y="323.5" width="10.4" height="2.9" fill="#ecf032"/><rect x="230.6" y="317.5" width="10.4" height="2.9" fill="#f2ee34"/><rect x="230.6" y="311.5" width="10.4" height="2.9" fill="#f4ea36"/><rect x="230.6" y="305.5" width="10.4" height="2.9" fill="#f4e638"/><rect x="230.6" y="300.4" width="10.4" height="1.6" fill="#f4de3a"/><rect x="242.6" y="365.5" width="10.4" height="2.9" fill="#80dc40"/><rect x="242.6" y="359.5" width="10.4" height="2.9" fill="#5ecc2c"/><rect x="242.6" y="353.5" width="10.4" height="2.9" fill="#70d430"/><rect x="242.6" y="347.5" width="10.4" height="2.9" fill="#acde30"/><rect x="242.6" y="341.5" width="10.4" height="2.9" fill="#c8e632"/><rect x="242.6" y="335.5" width="10.4" height="2.9" fill="#daec30"/><rect x="242.6" y="329.5" width="10.4" height="2.9" fill="#e6f030"/><rect x="242.6" y="323.5" width="10.4" height="2.9" fill="#ecf032"/><rect x="242.6" y="317.5" width="10.4" height="2.9" fill="#f2ee34"/><rect x="242.6" y="311.5" width="10.4" height="2.9" fill="#f4ea36"/><rect x="242.6" y="305.5" width="10.4" height="2.9" fill="#f4e638"/><rect x="242.6" y="299.5" width="10.4" height="2.9" fill="#f4de3a"/><rect x="242.6" y="293.5" width="10.4" height="2.9" fill="#f2d03e"/><rect x="242.6" y="287.5" width="10.4" height="2.9" fill="#f0b840"/><rect x="242.6" y="281.5" width="10.4" height="2.9" fill="#ec9c38"/><rect x="254.6" y="365.5" width="10.4" height="2.9" fill="#80dc40"/><rect x="254.6" y="359.5" width="10.4" height="2.9" fill="#5ecc2c"/><rect x="254.6" y="353.5" width="10.4" height="2.9" fill="#70d430"/><rect x="254.6" y="347.5" width="10.4" height="2.9" fill="#acde30"/><rect x="254.6" y="341.5" width="10.4" height="2.9" fill="#c8e632"/><rect x="254.6" y="335.5" width="10.4" height="2.9" fill="#daec30"/><rect x="254.6" y="329.5" width="10.4" height="2.9" fill="#e6f030"/><rect x="254.6" y="323.5" width="10.4" height="2.9" fill="#ecf032"/><rect x="254.6" y="317.5" width="10.4" height="2.9" fill="#f2ee34"/><rect x="254.6" y="311.5" width="10.4" height="2.9" fill="#f4ea36"/><rect x="254.6" y="305.5" width="10.4" height="2.9" fill="#f4e638"/><rect x="254.6" y="299.5" width="10.4" height="2.9" fill="#f4de3a"/><rect x="254.6" y="293.5" width="10.4" height="2.9" fill="#f2d03e"/><rect x="254.6" y="287.5" width="10.4" height="2.9" fill="#f0b840"/><rect x="254.6" y="281.5" width="10.4" height="2.9" fill="#ec9c38"/><rect x="254.6" y="275.5" width="10.4" height="2.9" fill="#e8862e"/><rect x="266.6" y="365.5" width="10.4" height="2.9" fill="#80dc40"/><rect x="266.6" y="359.5" width="10.4" height="2.9" fill="#5ecc2c"/><rect x="266.6" y="353.5" width="10.4" height="2.9" fill="#70d430"/><rect x="266.6" y="347.5" width="10.4" height="2.9" fill="#acde30"/><rect x="266.6" y="341.5" width="10.4" height="2.9" fill="#c8e632"/><rect x="266.6" y="335.5" width="10.4" height="2.9" fill="#daec30"/><rect x="266.6" y="329.5" width="10.4" height="2.9" fill="#e6f030"/><rect x="266.6" y="323.5" width="10.4" height="2.9" fill="#ecf032"/><rect x="266.6" y="317.5" width="10.4" height="2.9" fill="#f2ee34"/><rect x="266.6" y="311.5" width="10.4" height="2.9" fill="#f4ea36"/><rect x="266.6" y="305.5" width="10.4" height="2.9" fill="#f4e638"/><rect x="266.6" y="299.5" width="10.4" height="2.9" fill="#f4de3a"/><rect x="266.6" y="293.5" width="10.4" height="2.9" fill="#f2d03e"/><rect x="266.6" y="288.4" width="10.4" height="1.6" fill="#f0b840"/><rect x="278.6" y="365.5" width="10.4" height="2.9" fill="#80dc40"/><rect x="278.6" y="359.5" width="10.4" height="2.9" fill="#5ecc2c"/><rect x="278.6" y="353.5" width="10.4" height="2.9" fill="#70d430"/><rect x="278.6" y="347.5" width="10.4" height="2.9" fill="#acde30"/><rect x="278.6" y="341.5" width="10.4" height="2.9" fill="#c8e632"/><rect x="278.6" y="335.5" width="10.4" height="2.9" fill="#daec30"/><rect x="278.6" y="329.5" width="10.4" height="2.9" fill="#e6f030"/><rect x="278.6" y="323.5" width="10.4" height="2.9" fill="#ecf032"/><rect x="278.6" y="317.5" width="10.4" height="2.9" fill="#f2ee34"/><rect x="278.6" y="311.5" width="10.4" height="2.9" fill="#f4ea36"/><rect x="278.6" y="305.5" width="10.4" height="2.9" fill="#f4e638"/><rect x="278.6" y="299.5" width="10.4" height="2.9" fill="#f4de3a"/><rect x="278.6" y="293.5" width="10.4" height="2.9" fill="#f2d03e"/><rect x="290.6" y="365.5" width="10.4" height="2.9" fill="#80dc40"/><rect x="290.6" y="359.5" width="10.4" height="2.9" fill="#5ecc2c"/><rect x="290.6" y="353.5" width="10.4" height="2.9" fill="#70d430"/><rect x="290.6" y="347.5" width="10.4" height="2.9" fill="#acde30"/><rect x="290.6" y="341.5" width="10.4" height="2.9" fill="#c8e632"/><rect x="290.6" y="335.5" width="10.4" height="2.9" fill="#daec30"/><rect x="290.6" y="329.5" width="10.4" height="2.9" fill="#e6f030"/><rect x="290.6" y="323.5" width="10.4" height="2.9" fill="#ecf032"/><rect x="290.6" y="317.5" width="10.4" height="2.9" fill="#f2ee34"/><rect x="302.6" y="365.5" width="10.4" height="2.9" fill="#80dc40"/><rect x="302.6" y="359.5" width="10.4" height="2.9" fill="#5ecc2c"/><rect x="302.6" y="353.5" width="10.4" height="2.9" fill="#70d430"/><rect x="302.6" y="347.5" width="10.4" height="2.9" fill="#acde30"/><rect x="302.6" y="341.5" width="10.4" height="2.9" fill="#c8e632"/><rect x="302.6" y="335.5" width="10.4" height="2.9" fill="#daec30"/><rect x="302.6" y="329.5" width="10.4" height="2.9" fill="#e6f030"/><rect x="302.6" y="323.5" width="10.4" height="2.9" fill="#ecf032"/><rect x="302.6" y="317.5" width="10.4" height="2.9" fill="#f2ee34"/><rect x="302.6" y="311.5" width="10.4" height="2.9" fill="#f4ea36"/><rect x="302.6" y="305.5" width="10.4" height="2.9" fill="#f4e638"/><rect x="302.6" y="299.5" width="10.4" height="2.9" fill="#f4de3a"/><rect x="302.6" y="293.5" width="10.4" height="2.9" fill="#f2d03e"/><rect x="314.6" y="365.5" width="10.4" height="2.9" fill="#80dc40"/><rect x="314.6" y="359.5" width="10.4" height="2.9" fill="#5ecc2c"/><rect x="314.6" y="353.5" width="10.4" height="2.9" fill="#70d430"/><rect x="314.6" y="347.5" width="10.4" height="2.9" fill="#acde30"/><rect x="314.6" y="341.5" width="10.4" height="2.9" fill="#c8e632"/><rect x="314.6" y="335.5" width="10.4" height="2.9" fill="#daec30"/><rect x="314.6" y="329.5" width="10.4" height="2.9" fill="#e6f030"/><rect x="314.6" y="323.5" width="10.4" height="2.9" fill="#ecf032"/><rect x="314.6" y="317.5" width="10.4" height="2.9" fill="#f2ee34"/><rect x="314.6" y="311.5" width="10.4" height="2.9" fill="#f4ea36"/><rect x="314.6" y="305.5" width="10.4" height="2.9" fill="#f4e638"/><rect x="326.6" y="365.5" width="10.4" height="2.9" fill="#80dc40"/><rect x="326.6" y="359.5" width="10.4" height="2.9" fill="#5ecc2c"/><rect x="326.6" y="353.5" width="10.4" height="2.9" fill="#70d430"/><rect x="326.6" y="347.5" width="10.4" height="2.9" fill="#acde30"/><rect x="326.6" y="341.5" width="10.4" height="2.9" fill="#c8e632"/><rect x="326.6" y="335.5" width="10.4" height="2.9" fill="#daec30"/><rect x="326.6" y="329.5" width="10.4" height="2.9" fill="#e6f030"/><rect x="326.6" y="323.5" width="10.4" height="2.9" fill="#ecf032"/><rect x="326.6" y="317.5" width="10.4" height="2.9" fill="#f2ee34"/><rect x="326.6" y="311.5" width="10.4" height="2.9" fill="#f4ea36"/><rect x="326.6" y="306.4" width="10.4" height="1.6" fill="#f4e638"/><rect x="338.6" y="365.5" width="10.4" height="2.9" fill="#80dc40"/><rect x="338.6" y="359.5" width="10.4" height="2.9" fill="#5ecc2c"/><rect x="338.6" y="353.5" width="10.4" height="2.9" fill="#70d430"/><rect x="338.6" y="347.5" width="10.4" height="2.9" fill="#acde30"/><rect x="338.6" y="341.5" width="10.4" height="2.9" fill="#c8e632"/><rect x="338.6" y="335.5" width="10.4" height="2.9" fill="#daec30"/><rect x="338.6" y="329.5" width="10.4" height="2.9" fill="#e6f030"/><rect x="338.6" y="323.5" width="10.4" height="2.9" fill="#ecf032"/><rect x="338.6" y="317.5" width="10.4" height="2.9" fill="#f2ee34"/><rect x="338.6" y="311.5" width="10.4" height="2.9" fill="#f4ea36"/><rect x="338.6" y="305.5" width="10.4" height="2.9" fill="#f4e638"/><rect x="338.6" y="300.4" width="10.4" height="1.6" fill="#f4de3a"/><rect x="350.6" y="365.5" width="10.4" height="2.9" fill="#80dc40"/><rect x="350.6" y="359.5" width="10.4" height="2.9" fill="#5ecc2c"/><rect x="350.6" y="353.5" width="10.4" height="2.9" fill="#70d430"/><rect x="350.6" y="347.5" width="10.4" height="2.9" fill="#acde30"/><rect x="350.6" y="341.5" width="10.4" height="2.9" fill="#c8e632"/><rect x="350.6" y="335.5" width="10.4" height="2.9" fill="#daec30"/><rect x="350.6" y="329.5" width="10.4" height="2.9" fill="#e6f030"/><rect x="350.6" y="323.5" width="10.4" height="2.9" fill="#ecf032"/><rect x="350.6" y="317.5" width="10.4" height="2.9" fill="#f2ee34"/><rect x="362.6" y="365.5" width="10.4" height="2.9" fill="#80dc40"/><rect x="362.6" y="359.5" width="10.4" height="2.9" fill="#5ecc2c"/><rect x="362.6" y="353.5" width="10.4" height="2.9" fill="#70d430"/><rect x="362.6" y="347.5" width="10.4" height="2.9" fill="#acde30"/><rect x="362.6" y="341.5" width="10.4" height="2.9" fill="#c8e632"/><rect x="362.6" y="335.5" width="10.4" height="2.9" fill="#daec30"/><rect x="362.6" y="329.5" width="10.4" height="2.9" fill="#e6f030"/><rect x="362.6" y="324.4" width="10.4" height="1.6" fill="#ecf032"/><rect x="374.6" y="365.5" width="10.4" height="2.9" fill="#80dc40"/><rect x="374.6" y="359.5" width="10.4" height="2.9" fill="#5ecc2c"/><rect x="374.6" y="353.5" width="10.4" height="2.9" fill="#70d430"/><rect x="374.6" y="347.5" width="10.4" height="2.9" fill="#acde30"/><rect x="374.6" y="341.5" width="10.4" height="2.9" fill="#c8e632"/><rect x="374.6" y="335.5" width="10.4" height="2.9" fill="#daec30"/><rect x="386.6" y="365.5" width="10.4" height="2.9" fill="#80dc40"/><rect x="386.6" y="359.5" width="10.4" height="2.9" fill="#5ecc2c"/><rect x="386.6" y="353.5" width="10.4" height="2.9" fill="#70d430"/><rect x="386.6" y="347.5" width="10.4" height="2.9" fill="#acde30"/><rect x="386.6" y="341.5" width="10.4" height="2.9" fill="#c8e632"/><rect x="386.6" y="335.5" width="10.4" height="2.9" fill="#daec30"/><rect x="386.6" y="329.5" width="10.4" height="2.9" fill="#e6f030"/><rect x="386.6" y="323.5" width="10.4" height="2.9" fill="#ecf032"/><rect x="386.6" y="317.5" width="10.4" height="2.9" fill="#f2ee34"/><rect x="219.6" y="294.6" width="8.4" height="1.3" fill="#6a6050" opacity="0.8"/><rect x="315.6" y="300.6" width="8.4" height="1.3" fill="#6a6050" opacity="0.8"/><rect x="207.6" y="300.6" width="8.4" height="1.3" fill="#6a6050" opacity="0.8"/>
<filter id="kblur" x="-10%" y="-10%" width="120%" height="120%"><feGaussianBlur stdDeviation="0.7"/></filter><radialGradient id="kbase"><stop offset="0" stop-color="#d0cccc"/><stop offset="0.6" stop-color="#9a9494"/><stop offset="1" stop-color="#6a6262"/></radialGradient>
<circle cx="110.5" cy="217.4" r="12.6" fill="#c4b4b4"/>
<circle cx="110.5" cy="217.4" r="11.3" fill="#4a3a3a"/>
<circle cx="110.5" cy="217.4" r="10.2" fill="url(#kbase)"/>
<g filter="url(#kblur)"><path d="M110.50 217.40 L120.48 216.77 A10 10 0 0 0 118.94 212.04 Z" fill="#e8e4e4" opacity="0.3375"/><path d="M110.50 217.40 L120.26 215.21 A10 10 0 0 0 119.68 213.44 Z" fill="#fafafa" opacity="0.75"/><path d="M110.50 217.40 L117.72 210.48 A10 10 0 0 0 112.89 207.69 Z" fill="#e8e4e4" opacity="0.45"/><path d="M110.50 217.40 L116.38 209.31 A10 10 0 0 0 114.57 208.26 Z" fill="#fafafa" opacity="1.0"/><path d="M110.50 217.40 L109.77 207.43 A10 10 0 0 0 106.15 208.40 Z" fill="#e8e4e4" opacity="0.27"/><path d="M110.50 217.40 L108.59 207.58 A10 10 0 0 0 107.24 207.94 Z" fill="#fafafa" opacity="0.6"/><path d="M110.50 217.40 L102.93 210.87 A10 10 0 0 0 101.06 214.11 Z" fill="#e8e4e4" opacity="0.24750000000000003"/><path d="M110.50 217.40 L102.21 211.81 A10 10 0 0 0 101.51 213.02 Z" fill="#fafafa" opacity="0.55"/><path d="M110.50 217.40 L100.50 217.71 A10 10 0 0 0 102.23 223.02 Z" fill="#e8e4e4" opacity="0.4275"/><path d="M110.50 217.40 L100.72 219.48 A10 10 0 0 0 101.36 221.47 Z" fill="#fafafa" opacity="0.95"/><path d="M110.50 217.40 L103.97 224.97 A10 10 0 0 0 107.21 226.84 Z" fill="#e8e4e4" opacity="0.27"/><path d="M110.50 217.40 L104.91 225.69 A10 10 0 0 0 106.12 226.39 Z" fill="#fafafa" opacity="0.6"/><path d="M110.50 217.40 L111.48 227.35 A10 10 0 0 0 116.15 225.65 Z" fill="#e8e4e4" opacity="0.3825"/><path d="M110.50 217.40 L113.03 227.07 A10 10 0 0 0 114.78 226.44 Z" fill="#fafafa" opacity="0.85"/><path d="M110.50 217.40 L118.61 223.25 A10 10 0 0 0 120.19 219.85 Z" fill="#e8e4e4" opacity="0.27"/><path d="M110.50 217.40 L119.25 222.25 A10 10 0 0 0 119.84 220.98 Z" fill="#fafafa" opacity="0.6"/><circle cx="110.5" cy="217.4" r="3" fill="#f0f0f0" opacity="0.7"/></g>
<circle cx="110.5" cy="245.3" r="12.6" fill="#c4b4b4"/>
<circle cx="110.5" cy="245.3" r="11.3" fill="#4a3a3a"/>
<circle cx="110.5" cy="245.3" r="10.2" fill="url(#kbase)"/>
<g filter="url(#kblur)"><path d="M110.50 245.30 L120.48 244.67 A10 10 0 0 0 118.94 239.94 Z" fill="#e8e4e4" opacity="0.3375"/><path d="M110.50 245.30 L120.26 243.11 A10 10 0 0 0 119.68 241.34 Z" fill="#fafafa" opacity="0.75"/><path d="M110.50 245.30 L117.72 238.38 A10 10 0 0 0 112.89 235.59 Z" fill="#e8e4e4" opacity="0.45"/><path d="M110.50 245.30 L116.38 237.21 A10 10 0 0 0 114.57 236.16 Z" fill="#fafafa" opacity="1.0"/><path d="M110.50 245.30 L109.77 235.33 A10 10 0 0 0 106.15 236.30 Z" fill="#e8e4e4" opacity="0.27"/><path d="M110.50 245.30 L108.59 235.48 A10 10 0 0 0 107.24 235.84 Z" fill="#fafafa" opacity="0.6"/><path d="M110.50 245.30 L102.93 238.77 A10 10 0 0 0 101.06 242.01 Z" fill="#e8e4e4" opacity="0.24750000000000003"/><path d="M110.50 245.30 L102.21 239.71 A10 10 0 0 0 101.51 240.92 Z" fill="#fafafa" opacity="0.55"/><path d="M110.50 245.30 L100.50 245.61 A10 10 0 0 0 102.23 250.92 Z" fill="#e8e4e4" opacity="0.4275"/><path d="M110.50 245.30 L100.72 247.38 A10 10 0 0 0 101.36 249.37 Z" fill="#fafafa" opacity="0.95"/><path d="M110.50 245.30 L103.97 252.87 A10 10 0 0 0 107.21 254.74 Z" fill="#e8e4e4" opacity="0.27"/><path d="M110.50 245.30 L104.91 253.59 A10 10 0 0 0 106.12 254.29 Z" fill="#fafafa" opacity="0.6"/><path d="M110.50 245.30 L111.48 255.25 A10 10 0 0 0 116.15 253.55 Z" fill="#e8e4e4" opacity="0.3825"/><path d="M110.50 245.30 L113.03 254.97 A10 10 0 0 0 114.78 254.34 Z" fill="#fafafa" opacity="0.85"/><path d="M110.50 245.30 L118.61 251.15 A10 10 0 0 0 120.19 247.75 Z" fill="#e8e4e4" opacity="0.27"/><path d="M110.50 245.30 L119.25 250.15 A10 10 0 0 0 119.84 248.88 Z" fill="#fafafa" opacity="0.6"/><circle cx="110.5" cy="245.3" r="3" fill="#f0f0f0" opacity="0.7"/></g>
<circle cx="110.7" cy="281" r="15.2" fill="#fbfbfb"/>
<circle cx="101.8" cy="281.7" r="2.1" fill="#8a1a24"/>
<circle cx="110.7" cy="315.3" r="15.2" fill="#fbfbfb"/>
<circle cx="119.5" cy="311.8" r="2.1" fill="#8a1a24"/>
<circle cx="110.7" cy="350.5" r="15.2" fill="#fbfbfb"/>
<circle cx="101.8" cy="351.5" r="2.1" fill="#8a1a24"/>
<rect x="211" y="394.5" width="70" height="3.2" fill="#a8a8a8" opacity="0.7" filter="url(#blur05)"/>
<rect x="209" y="391.5" width="68" height="3.5" rx="0.8" fill="#a46c30"/>
</svg></body></html>
